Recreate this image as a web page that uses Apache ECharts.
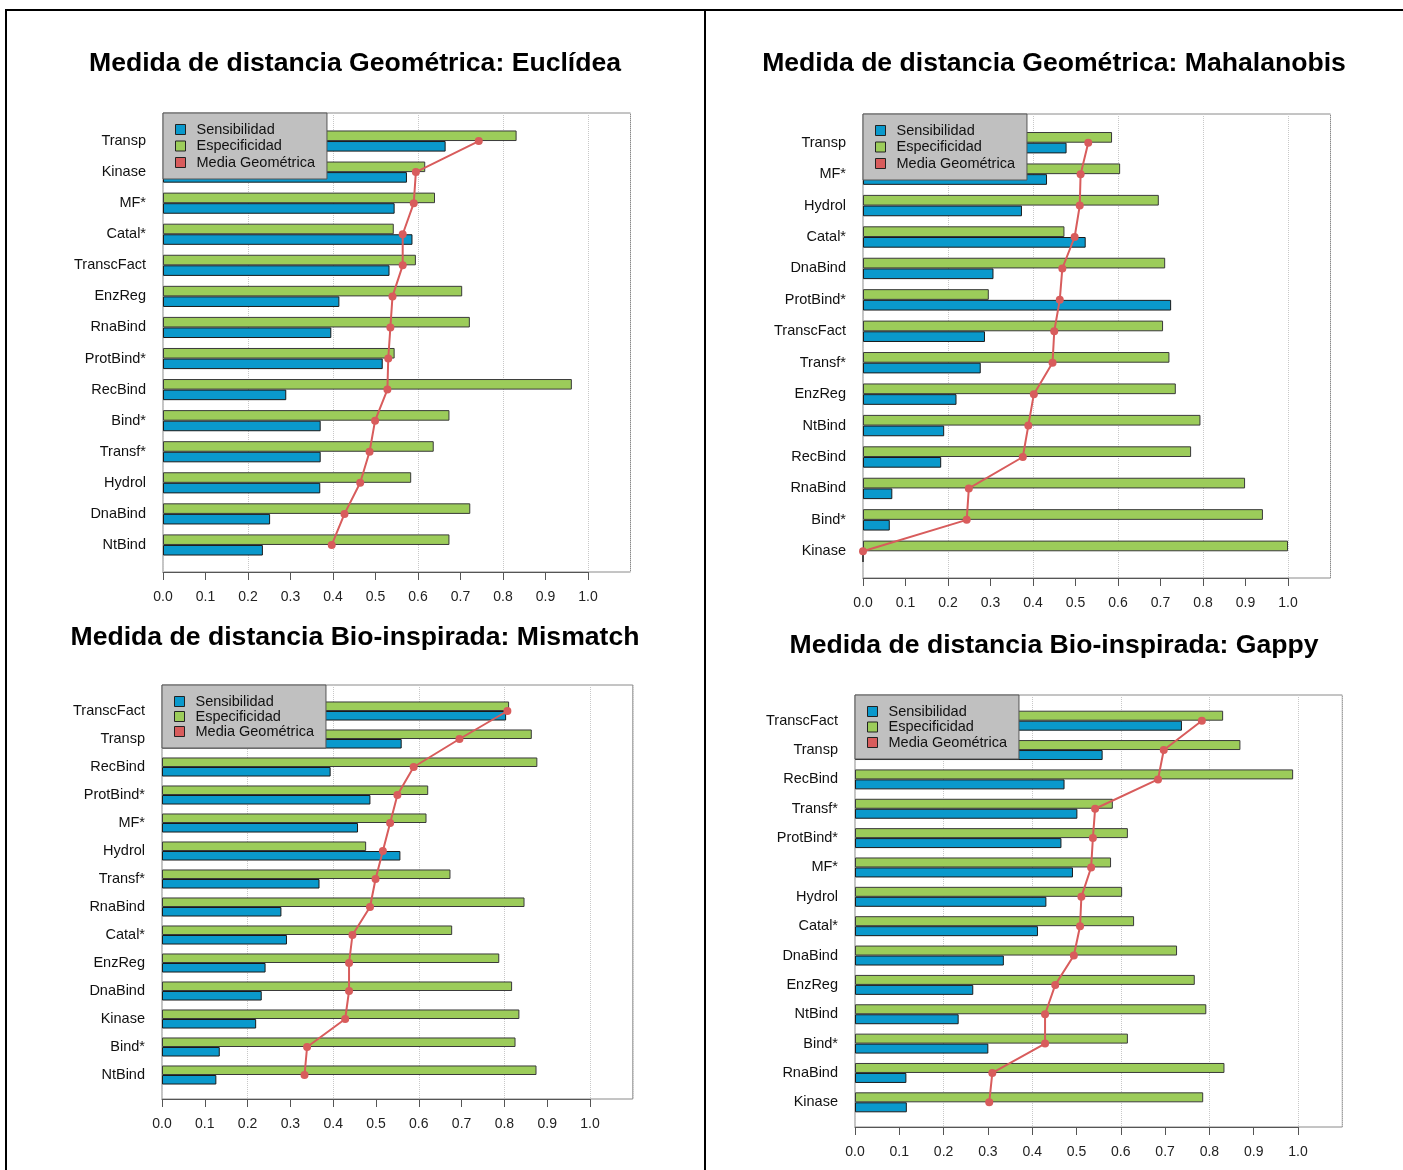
<!DOCTYPE html>
<html lang="es">
<head>
<meta charset="UTF-8">
<title>Medidas de distancia</title>
<script src="https://cdn.jsdelivr.net/npm/echarts@6/dist/echarts.min.js"></script>
<style>
    html, body { margin: 0; padding: 0; background: #fff; }
    #main { width: 1403px; height: 1170px; }
</style>
</head>
<body>
<div id="main"></div>
<script type="text/javascript">
    // Euclídea
    var catEuc = ['Transp','Kinase','MF*','Catal*','TranscFact','EnzReg','RnaBind','ProtBind*','RecBind','Bind*','Transf*','Hydrol','DnaBind','NtBind'];
    var sensEuc = [0.665,0.574,0.545,0.587,0.533,0.415,0.396,0.517,0.290,0.371,0.371,0.370,0.252,0.235];
    var espEuc  = [0.832,0.617,0.640,0.543,0.595,0.704,0.722,0.545,0.962,0.674,0.637,0.584,0.723,0.674];
    var mgEuc   = [0.743,0.595,0.590,0.564,0.564,0.540,0.535,0.530,0.528,0.499,0.486,0.464,0.427,0.397];

    // Mahalanobis
    var catMah = ['Transp','MF*','Hydrol','Catal*','DnaBind','ProtBind*','TranscFact','Transf*','EnzReg','NtBind','RecBind','RnaBind','Bind*','Kinase'];
    var sensMah = [0.479,0.433,0.374,0.524,0.307,0.725,0.287,0.277,0.220,0.191,0.184,0.069,0.063,0.0];
    var espMah  = [0.586,0.605,0.696,0.474,0.711,0.296,0.706,0.721,0.736,0.794,0.772,0.899,0.941,1.0];
    var mgMah   = [0.530,0.512,0.510,0.498,0.469,0.463,0.450,0.446,0.402,0.389,0.376,0.249,0.244,0.0];

    // Mismatch
    var catMis = ['TranscFact','Transp','RecBind','ProtBind*','MF*','Hydrol','Transf*','RnaBind','Catal*','EnzReg','DnaBind','Kinase','Bind*','NtBind'];
    var sensMis = [0.804,0.560,0.394,0.487,0.458,0.557,0.368,0.279,0.292,0.242,0.233,0.220,0.135,0.127];
    var espMis  = [0.811,0.864,0.877,0.622,0.618,0.477,0.674,0.847,0.678,0.788,0.818,0.835,0.826,0.875];
    var mgMis   = [0.807,0.695,0.588,0.550,0.533,0.516,0.499,0.486,0.445,0.437,0.437,0.428,0.339,0.333];

    // Gappy
    var catGap = ['TranscFact','Transp','RecBind','Transf*','ProtBind*','MF*','Hydrol','Catal*','DnaBind','EnzReg','NtBind','Bind*','RnaBind','Kinase'];
    var sensGap = [0.738,0.559,0.473,0.502,0.466,0.492,0.432,0.413,0.336,0.267,0.234,0.301,0.116,0.117];
    var espGap  = [0.831,0.870,0.989,0.582,0.616,0.578,0.603,0.630,0.727,0.767,0.793,0.616,0.834,0.786];
    var mgGap   = [0.783,0.697,0.684,0.542,0.537,0.533,0.511,0.508,0.494,0.452,0.429,0.429,0.310,0.303];

    var AZUL = '#0a99cc', VERDE = '#9ccc5a', ROJO = '#d85c5c';
    var FUENTE = '"Liberation Sans", Arial, sans-serif';

    // posiciones de cada panel (pixeles)
    var paneles = [
        {titulo: 'Medida de distancia Geométrica: Euclídea', cat: catEuc, sens: sensEuc, esp: espEuc, mg: mgEuc,
         left: 163, unit: 425, top: 113, bottom: 572, catTop: 125.5, catBottom: 560.5, tx: 355, ty: 62, gap: 1.5},
        {titulo: 'Medida de distancia Geométrica: Mahalanobis', cat: catMah, sens: sensMah, esp: espMah, mg: mgMah,
         left: 863, unit: 425, top: 114, bottom: 578, catTop: 127, catBottom: 567, tx: 1054, ty: 62, gap: 1.5},
        {titulo: 'Medida de distancia Bio-inspirada: Mismatch', cat: catMis, sens: sensMis, esp: espMis, mg: mgMis,
         left: 162, unit: 428, top: 685, bottom: 1099, catTop: 697, catBottom: 1089, tx: 355, ty: 636, gap: 0},
        {titulo: 'Medida de distancia Bio-inspirada: Gappy', cat: catGap, sens: sensGap, esp: espGap, mg: mgGap,
         left: 855, unit: 443, top: 695, bottom: 1127, catTop: 706, catBottom: 1117, tx: 1054, ty: 644, gap: 0.5}
    ];

    var grid = [], xAxis = [], yAxis = [], series = [], legend = [], title = [];

    paneles.forEach(function (p, i) {
        var g = i * 3;
        // marco + lineas punteadas
        grid.push({left: p.left, top: p.top, width: p.unit * 1.1, height: p.bottom - p.top,
            show: true, borderColor: '#8a8a8a', borderWidth: 1, backgroundColor: 'transparent'});
        // barras
        grid.push({left: p.left, top: p.catTop, width: p.unit * 1.1, height: p.catBottom - p.catTop});
        // eje con ticks 0.0 - 1.0
        grid.push({left: p.left, top: p.bottom - 1, width: p.unit, height: 1});

        xAxis.push({gridIndex: g, type: 'value', min: 0, max: 1.1, interval: 0.2,
            axisLine: {show: false}, axisTick: {show: false}, axisLabel: {show: false},
            splitLine: {show: true, lineStyle: {type: 'dotted', color: '#c8c8c8', width: 1}}});
        xAxis.push({gridIndex: g + 1, type: 'value', min: 0, max: 1.1, show: false});
        xAxis.push({gridIndex: g + 2, type: 'value', min: 0, max: 1, interval: 0.1,
            axisLine: {show: true, lineStyle: {color: '#555', width: 1}},
            axisTick: {show: true, length: 8, lineStyle: {color: '#555'}},
            splitLine: {show: false},
            axisLabel: {show: true, margin: 18, fontSize: 14, color: '#222', fontFamily: FUENTE,
                formatter: function (v) { return v.toFixed(1); }}});

        yAxis.push({gridIndex: g, type: 'value', show: false});
        yAxis.push({gridIndex: g + 1, type: 'category', data: p.cat, inverse: true,
            axisLine: {show: false}, axisTick: {show: false}, splitLine: {show: false},
            axisLabel: {margin: 17, fontSize: 14.5, color: '#111', fontFamily: FUENTE}});
        yAxis.push({gridIndex: g + 2, type: 'value', show: false});

        series.push({type: 'bar', name: 'Especificidad', xAxisIndex: g + 1, yAxisIndex: g + 1,
            data: p.esp, barWidth: '34%', barGap: '0%',
            itemStyle: {color: VERDE, borderColor: '#3a3a3a', borderWidth: 1}});
        series.push({type: 'bar', name: 'Sensibilidad', xAxisIndex: g + 1, yAxisIndex: g + 1,
            data: p.sens, barWidth: '34%', barGap: '0%',
            itemStyle: {color: AZUL, borderColor: '#1a1a1a', borderWidth: 1}});
        series.push({type: 'line', name: 'Media Geométrica', xAxisIndex: g + 1, yAxisIndex: g + 1,
            data: p.mg, symbol: 'circle', symbolSize: 8, z: 5,
            lineStyle: {color: ROJO, width: 2}, itemStyle: {color: ROJO}});

        legend.push({orient: 'vertical', left: p.left, top: p.top, z: 10,
            backgroundColor: '#c0c0c0', borderColor: '#555', borderWidth: 1,
            padding: [9, 12, 9, 12], itemWidth: 10, itemHeight: 10, itemGap: p.gap,
            selectedMode: false,
            textStyle: {fontSize: 14.5, lineHeight: 14, color: '#111', fontFamily: FUENTE, padding: [0, 0, 0, 6]},
            data: [
                {name: 'Sensibilidad', icon: 'rect', itemStyle: {color: AZUL, borderColor: '#222', borderWidth: 1}},
                {name: 'Especificidad', icon: 'rect', itemStyle: {color: VERDE, borderColor: '#222', borderWidth: 1}},
                {name: 'Media Geométrica', icon: 'rect', itemStyle: {color: ROJO, borderColor: '#222', borderWidth: 1}}
            ]});

        title.push({text: p.titulo, left: p.tx, top: p.ty - 12, textAlign: 'center', padding: 0,
            textStyle: {fontSize: 26.6, fontWeight: 'bold', color: '#000', fontFamily: FUENTE}});
    });

    var myChart = echarts.init(document.getElementById('main'));
    myChart.setOption({
        animation: false,
        textStyle: {fontFamily: FUENTE},
        title: title,
        legend: legend,
        grid: grid,
        xAxis: xAxis,
        yAxis: yAxis,
        series: series,
        graphic: [
            {type: 'line', shape: {x1: 5, y1: 10, x2: 1403, y2: 10}, style: {stroke: '#000', lineWidth: 2}},
            {type: 'line', shape: {x1: 6, y1: 10, x2: 6, y2: 1170}, style: {stroke: '#000', lineWidth: 2}},
            {type: 'line', shape: {x1: 705, y1: 10, x2: 705, y2: 1170}, style: {stroke: '#000', lineWidth: 2}}
        ]
    });
</script>
</body>
</html>
